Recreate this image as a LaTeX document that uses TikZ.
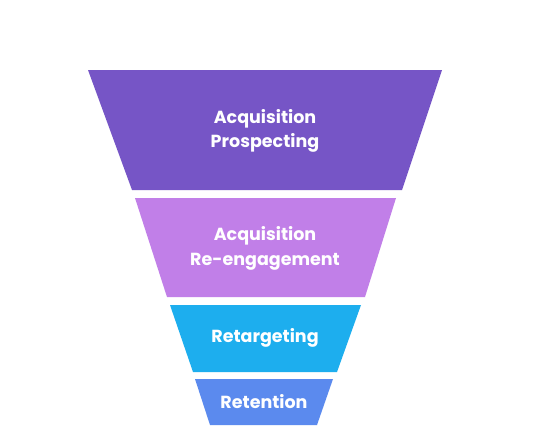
\documentclass[tikz,border=0pt]{standalone}
\usepackage{fontspec}
\setmainfont{Poppins}
\definecolor{cA}{HTML}{7655C6}
\definecolor{cB}{HTML}{C17FE8}
\definecolor{cC}{HTML}{1DAEEE}
\definecolor{cD}{HTML}{5B8AEE}
\tikzset{lbl/.style={text=white,font=\fontsize{17.5}{24.5}\selectfont\bfseries,align=center,inner sep=0pt}}
\begin{document}
\begin{tikzpicture}[x=1pt,y=-1pt]
\useasboundingbox[fill=white] (0,0) rectangle (536,447);
\fill[cA] (88,70) -- (442,70) -- (402,190) -- (132,190) -- cycle;
\fill[cB] (135,198) -- (396,198) -- (365,297) -- (167,297) -- cycle;
\fill[cC] (170,305) -- (361,305) -- (337,372) -- (193,372) -- cycle;
\fill[cD] (195,379) -- (333,379) -- (317,425) -- (210,425) -- cycle;
\node[lbl] (t1) at (265,131) {Acquisition\\Prospecting};
\node[lbl] (t2) at (265,248.5) {Acquisition\\Re-engagement};
\node[lbl] (t3) at (265,338) {Retargeting};
\node[lbl] (t4) at (264,402) {Retention};
\end{tikzpicture}
\end{document}
